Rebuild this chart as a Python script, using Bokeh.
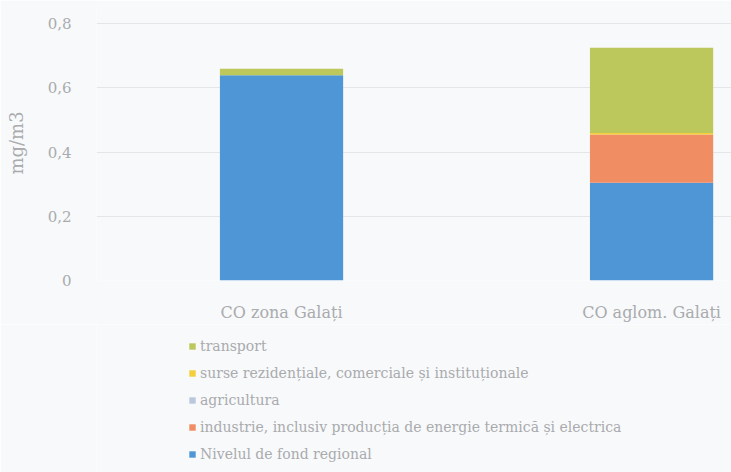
from bokeh.plotting import figure
from bokeh.layouts import column
from bokeh.models import ColumnDataSource, Range1d, FixedTicker, Legend, LegendItem
from bokeh.embed import file_html
from bokeh.resources import INLINE

# CO concentrations by source (mg/m3)
categories = ["CO zona Galați", "CO aglom. Galați"]
fond_regional = [0.64, 0.305]
industrie = [0.0, 0.15]
agricultura = [0.0, 0.0]
rezidentiale = [0.0, 0.005]
transport = [0.02, 0.265]

y_ticks = [0, 0.2, 0.4, 0.6, 0.8]
y_tick_labels = ["0", "0,2", "0,4", "0,6", "0,8"]

series = ["fond", "industrie", "agricultura", "rezidentiale", "transport"]
series_labels = {
    "fond": "Nivelul de fond regional",
    "industrie": "industrie, inclusiv producția de energie termică și electrica",
    "agricultura": "agricultura",
    "rezidentiale": "surse rezidențiale, comerciale și instituționale",
    "transport": "transport",
}
colors = ["#4f96d6", "#f08d62", "#bac8dc", "#f3cf3a", "#bcc75c"]

x_pos = [i + 0.5 for i in range(len(categories))]
source = ColumnDataSource(dict(
    x=x_pos,
    fond=fond_regional,
    industrie=industrie,
    agricultura=agricultura,
    rezidentiale=rezidentiale,
    transport=transport,
))

BG = "#f8f9fb"
TEXT = "#a9abad"
FONT = "DejaVu Serif"

p = figure(
    width=731, height=324,
    x_range=Range1d(0, 1.716), y_range=Range1d(0, 0.857),
    output_backend="svg", toolbar_location=None,
    min_border_left=96, min_border_right=0, min_border_top=5, min_border_bottom=44,
    background_fill_color=BG, border_fill_color=BG, outline_line_color=None,
)

p.vbar_stack(series, x="x", width=0.333, color=colors, source=source, line_color=None)

# y axis
p.yaxis.ticker = FixedTicker(ticks=y_ticks)
p.yaxis.major_label_overrides = {t: l for t, l in zip(y_ticks, y_tick_labels)}
p.yaxis.axis_label = "mg/m3"
p.yaxis.axis_label_text_font = FONT
p.yaxis.axis_label_text_font_style = "normal"
p.yaxis.axis_label_text_font_size = "18px"
p.yaxis.axis_label_text_color = TEXT
p.yaxis.axis_label_standoff = 18
p.yaxis.major_label_text_font = FONT
p.yaxis.major_label_text_font_size = "15px"
p.yaxis.major_label_text_color = TEXT
p.yaxis.major_label_standoff = 19
p.yaxis.axis_line_color = None
p.yaxis.major_tick_line_color = None
p.yaxis.minor_tick_line_color = None

# x axis with category names
p.xaxis.ticker = FixedTicker(ticks=x_pos)
p.xaxis.major_label_overrides = {x: c for x, c in zip(x_pos, categories)}
p.xaxis.major_label_text_font = FONT
p.xaxis.major_label_text_font_size = "16px"
p.xaxis.major_label_text_color = TEXT
p.xaxis.major_label_standoff = 16
p.xaxis.axis_line_color = None
p.xaxis.major_tick_line_color = None
p.xaxis.minor_tick_line_color = None

p.xgrid.grid_line_color = None
p.ygrid.grid_line_color = "#e4e6e9"
p.ygrid.ticker = FixedTicker(ticks=y_ticks)

# legend panel underneath: swatches share the bar colours, top layer listed first
leg = figure(
    width=731, height=148, x_range=Range1d(0, 1), y_range=Range1d(0, 1),
    x_axis_location=None, y_axis_location=None,
    output_backend="svg", toolbar_location=None,
    min_border=0, background_fill_color=BG, border_fill_color=BG, outline_line_color=None,
)
leg.grid.visible = False
swatches = [leg.vbar(x=[5], top=[0], width=0.1, color=c, line_color=None) for c in colors]

items = [LegendItem(label=series_labels[s], renderers=[r]) for s, r in zip(series, swatches)]
items.reverse()
legend = Legend(
    items=items, location=(92, 8), orientation="vertical",
    background_fill_alpha=0, border_line_color=None,
    label_text_font=FONT, label_text_font_size="14px", label_text_color=TEXT,
    glyph_width=8, glyph_height=8, label_height=20, spacing=7,
    label_standoff=4, padding=5, margin=0,
)
leg.add_layout(legend, "center")

layout = column(p, leg, spacing=0)
open("out.html", "w").write(file_html(layout, INLINE))
